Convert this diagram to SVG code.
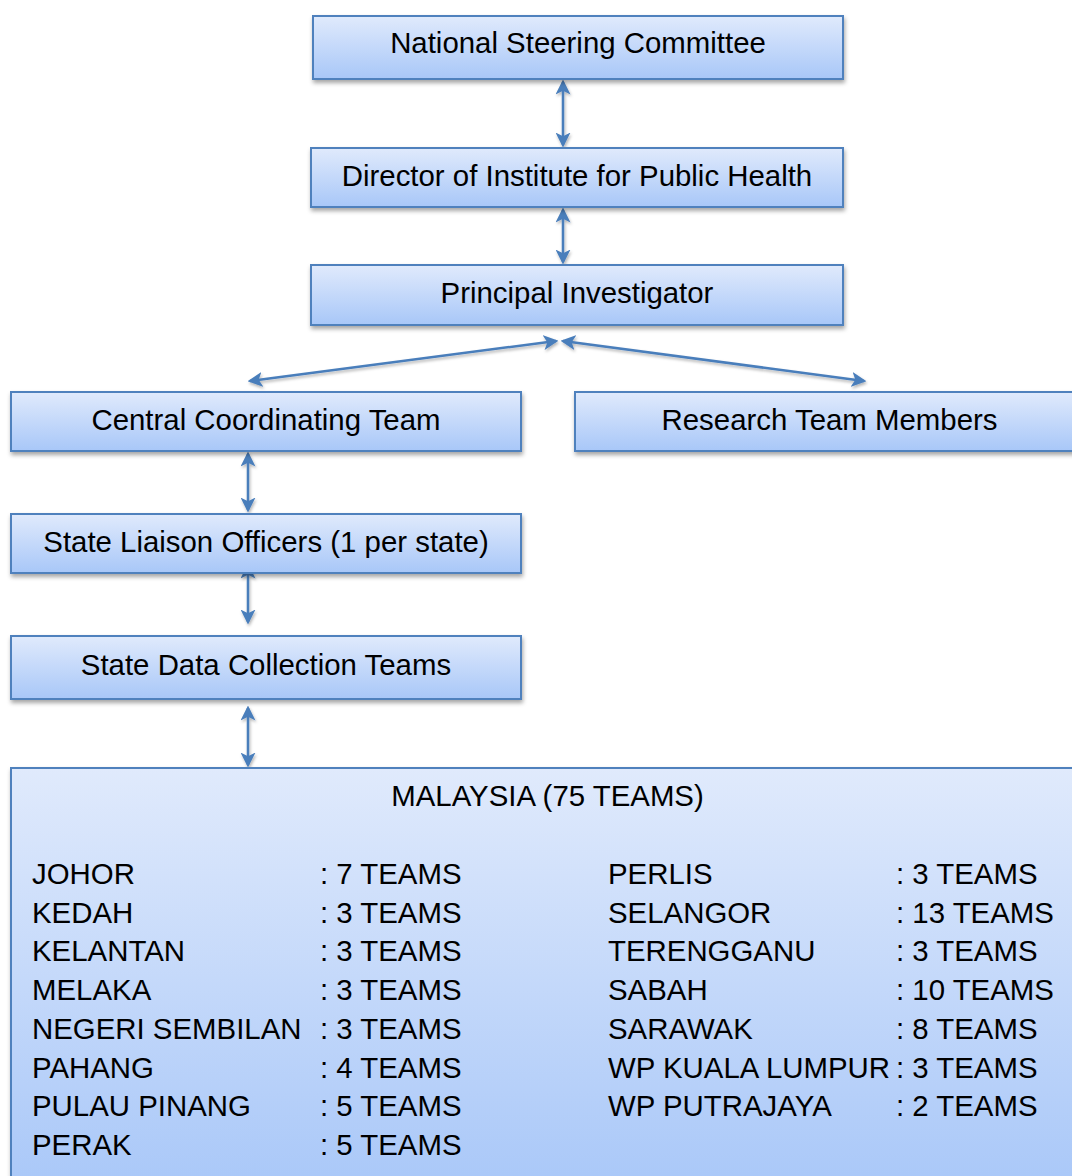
<svg xmlns="http://www.w3.org/2000/svg" width="1072" height="1176" viewBox="0 0 1072 1176">
<defs>
<linearGradient id="g" x1="0" y1="0" x2="0" y2="1">
<stop offset="0" stop-color="#e0eafc"/>
<stop offset="1" stop-color="#a8c7f8"/>
</linearGradient>
<filter id="sh" x="-5%" y="-20%" width="115%" height="150%">
<feDropShadow dx="1" dy="3" stdDeviation="2" flood-color="#000" flood-opacity="0.35"/>
</filter>
<filter id="ash" x="-20%" y="-20%" width="140%" height="140%">
<feDropShadow dx="1" dy="2" stdDeviation="1.5" flood-color="#000" flood-opacity="0.3"/>
</filter>
<marker id="ah" viewBox="0 0 12 12" refX="10" refY="6" markerWidth="15" markerHeight="15" markerUnits="userSpaceOnUse" orient="auto-start-reverse">
<path d="M0,0 L12,6 L0,12 L3,6 z" fill="#4a7ebb"/>
</marker>
</defs>
<style>
.box{fill:url(#g);stroke:#4f81bd;stroke-width:2;filter:url(#sh)}
.t{font-family:"Liberation Sans",Arial,sans-serif;font-size:29.4px;fill:#000}
.c{text-anchor:middle}
.cn{fill:none;stroke:#4a7ebb;stroke-width:2.5;marker-start:url(#ah);marker-end:url(#ah)}
</style>
<rect width="1072" height="1176" fill="#fff"/>
<g id="connectors" filter="url(#ash)">
<line class="cn" x1="563" y1="82" x2="563" y2="145"/>
<line class="cn" x1="563" y1="210" x2="563" y2="262"/>
<line class="cn" x1="556" y1="341" x2="250" y2="381"/>
<line class="cn" x1="563" y1="341" x2="864" y2="381"/>
<line class="cn" x1="248" y1="454" x2="248" y2="510"/>
<line class="cn" x1="248" y1="566" x2="248" y2="622"/>
<line class="cn" x1="248" y1="708" x2="248" y2="765"/>
</g>
<g id="n1"><rect class="box" x="313" y="16" width="530" height="63"/><text class="t c" x="578" y="53">National Steering Committee</text></g>
<g id="n2"><rect class="box" x="311" y="148" width="532" height="59"/><text class="t c" x="577" y="186">Director of Institute for Public Health</text></g>
<g id="n3"><rect class="box" x="311" y="265" width="532" height="60"/><text class="t c" x="577" y="303">Principal Investigator</text></g>
<g id="n4"><rect class="box" x="11" y="392" width="510" height="59"/><text class="t c" x="266" y="430">Central Coordinating Team</text></g>
<g id="n5"><rect class="box" x="575" y="392" width="509" height="59"/><text class="t c" x="829.5" y="430">Research Team Members</text></g>
<g id="n6"><rect class="box" x="11" y="514" width="510" height="59"/><text class="t c" x="266" y="552">State Liaison Officers (1 per state)</text></g>
<g id="n7"><rect class="box" x="11" y="636" width="510" height="63"/><text class="t c" x="266" y="675">State Data Collection Teams</text></g>
<g id="n8">
<rect class="box" x="11" y="768" width="1073" height="430"/>
<text class="t c" x="547.5" y="806">MALAYSIA (75 TEAMS)</text>
<g class="t">
<text x="32" y="884">JOHOR</text><text x="320" y="884">: 7 TEAMS</text>
<text x="32" y="923">KEDAH</text><text x="320" y="923">: 3 TEAMS</text>
<text x="32" y="961">KELANTAN</text><text x="320" y="961">: 3 TEAMS</text>
<text x="32" y="1000">MELAKA</text><text x="320" y="1000">: 3 TEAMS</text>
<text x="32" y="1039">NEGERI SEMBILAN</text><text x="320" y="1039">: 3 TEAMS</text>
<text x="32" y="1078">PAHANG</text><text x="320" y="1078">: 4 TEAMS</text>
<text x="32" y="1116">PULAU PINANG</text><text x="320" y="1116">: 5 TEAMS</text>
<text x="32" y="1155">PERAK</text><text x="320" y="1155">: 5 TEAMS</text>
<text x="608" y="884">PERLIS</text><text x="896" y="884">: 3 TEAMS</text>
<text x="608" y="923">SELANGOR</text><text x="896" y="923">: 13 TEAMS</text>
<text x="608" y="961">TERENGGANU</text><text x="896" y="961">: 3 TEAMS</text>
<text x="608" y="1000">SABAH</text><text x="896" y="1000">: 10 TEAMS</text>
<text x="608" y="1039">SARAWAK</text><text x="896" y="1039">: 8 TEAMS</text>
<text x="608" y="1078">WP KUALA LUMPUR</text><text x="896" y="1078">: 3 TEAMS</text>
<text x="608" y="1116">WP PUTRAJAYA</text><text x="896" y="1116">: 2 TEAMS</text>
</g>
</g>
</svg>
